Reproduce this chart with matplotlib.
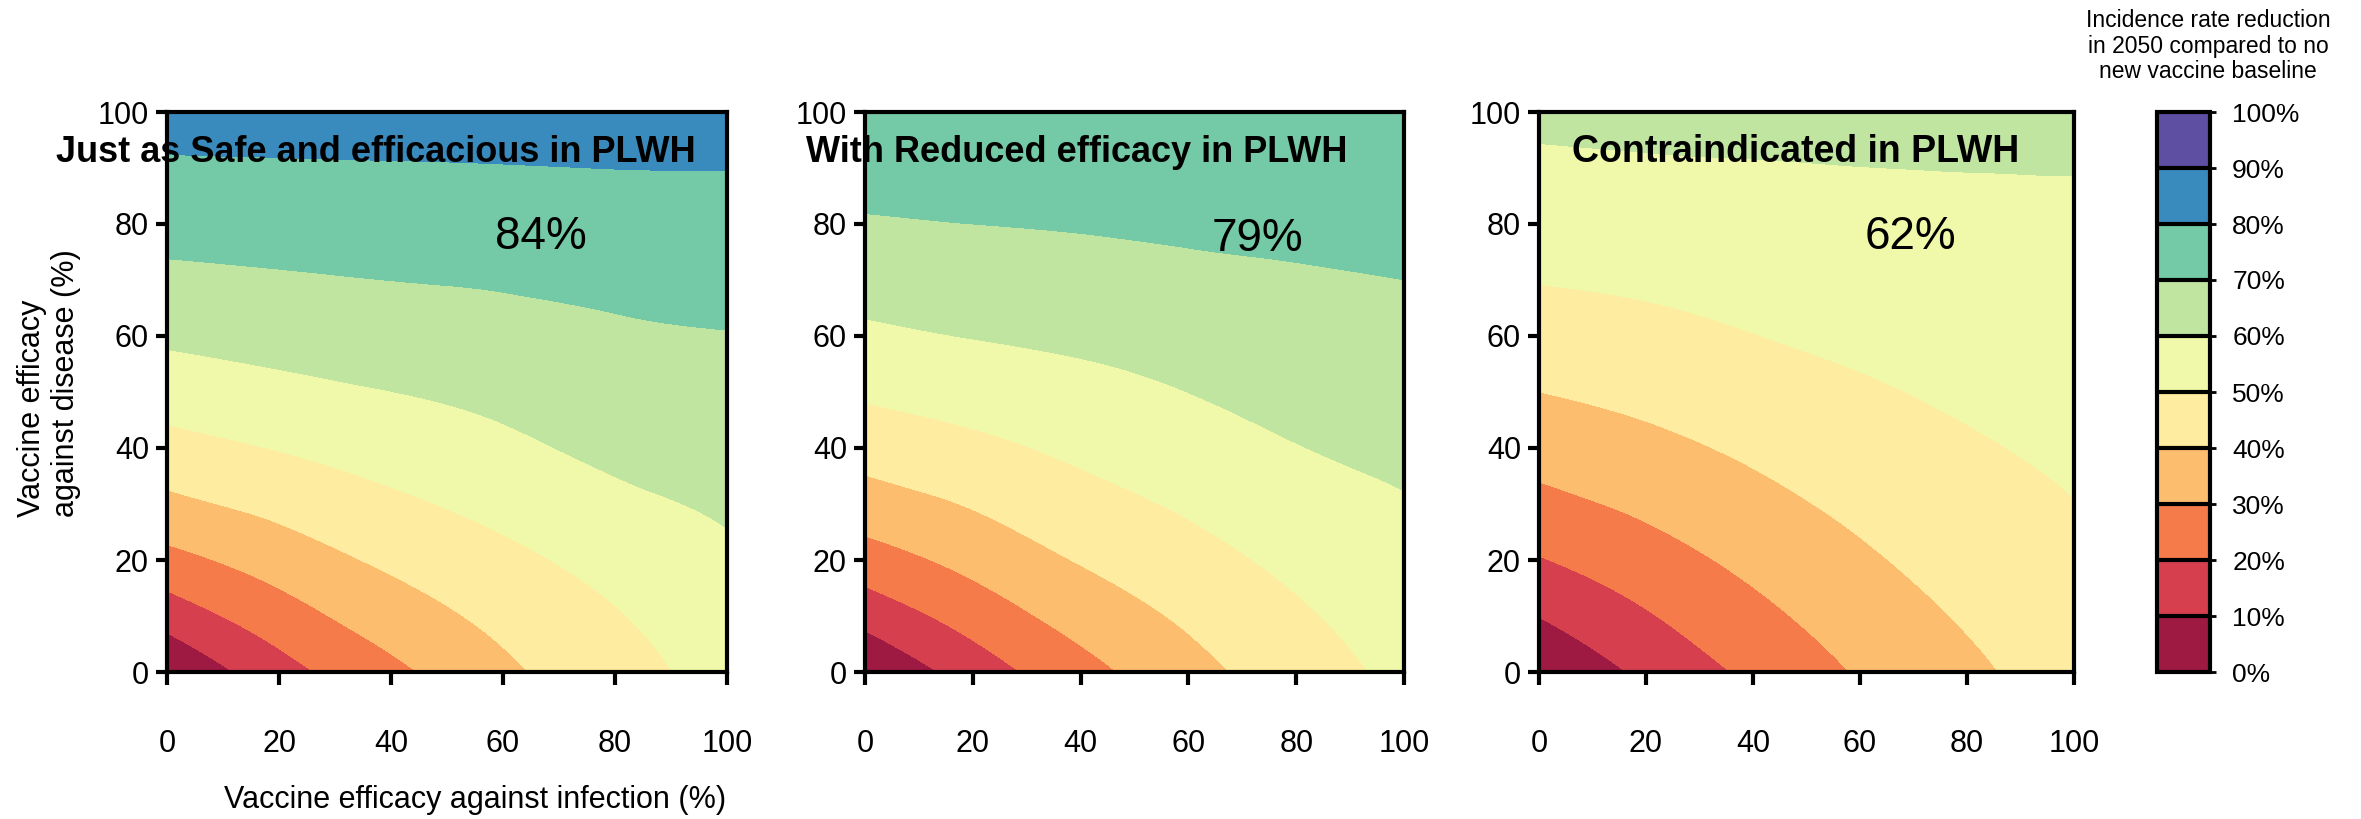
import numpy as np
import matplotlib
matplotlib.use('Agg')
import matplotlib.pyplot as plt
import matplotlib.tri as mtri
from matplotlib.colors import ListedColormap, BoundaryNorm
from matplotlib.cm import ScalarMappable

plt.rcParams['font.family'] = ['Liberation Sans', 'DejaVu Sans']

# grid of vaccine efficacies (%)
infection_efficacy = [0, 20, 40, 60, 80, 100]
disease_efficacy = [0, 20, 40, 60, 80, 100]

# incidence rate reduction (%), rows = disease efficacy, cols = infection efficacy
reduction_safe = [
    [0.0, 16.0, 27.5, 38.0, 46.0, 54.0],
    [26.8, 34.5, 41.8, 47.6, 53.3, 58.5],
    [46.6, 50.4, 54.1, 57.9, 62.1, 64.0],
    [61.6, 63.6, 65.3, 66.8, 68.7, 69.7],
    [73.4, 74.0, 74.6, 75.2, 76.0, 76.4],
    [84.0, 84.2, 84.3, 84.3, 84.2, 84.0],
]
reduction_reduced = [
    [0.0, 14.4, 26.4, 36.6, 44.9, 52.5],
    [25.4, 33.0, 40.6, 46.5, 52.3, 57.1],
    [43.9, 47.7, 51.9, 55.8, 59.7, 61.9],
    [58.1, 60.3, 61.9, 64.0, 66.0, 67.2],
    [69.1, 70.0, 70.7, 71.6, 72.2, 72.9],
    [78.5, 78.7, 78.9, 79.0, 79.0, 79.0],
]
reduction_contra = [
    [0.0, 12.1, 22.0, 30.8, 38.0, 45.0],
    [19.4, 25.8, 32.4, 38.5, 43.8, 48.2],
    [33.9, 37.5, 41.6, 45.6, 49.0, 51.5],
    [45.5, 47.3, 49.8, 51.9, 53.6, 55.1],
    [54.6, 55.4, 56.3, 57.3, 58.0, 58.7],
    [62.0, 62.5, 62.8, 62.6, 62.3, 61.5],
]
panel_titles = ['Just as Safe and efficacious in PLWH',
                'With Reduced efficacy in PLWH',
                'Contraindicated in PLWH']
headline = ['84%', '79%', '62%']
levels = [0, 10, 20, 30, 40, 50, 60, 70, 80, 90, 100]
band_colors = ['#9e1a42', '#d6404e', '#f57b4a', '#fdbd6f', '#feeca1',
               '#f0f8a9', '#c0e5a0', '#74c9a6', '#3a8bbd', '#5e4fa2']

cmap = ListedColormap(band_colors)
cmap.set_under(band_colors[0])
cmap.set_over(band_colors[-1])
norm = BoundaryNorm(levels, cmap.N)

W, H = 2361, 819
fig = plt.figure(figsize=(W / 100, H / 100), dpi=100)

# axes boxes in pixels: left, right
boxes = [(167, 727), (865, 1404), (1539, 2074)]
top_px, bot_px = 112, 672
title_x = [56, 806, 1572]
title_size = [26, 26, 27]
label_pos = [(0.668, 0.777), (0.729, 0.773), (0.695, 0.777)]

grids = [reduction_safe, reduction_reduced, reduction_contra]
X, Y = np.meshgrid(infection_efficacy, disease_efficacy)
triang = mtri.Triangulation(X.ravel(), Y.ravel())
refiner = mtri.UniformTriRefiner(triang)

for i, (l, r) in enumerate(boxes):
    ax = fig.add_axes([l / W, 1 - bot_px / H, (r - l) / W, (bot_px - top_px) / H])
    # smooth the surface with matplotlib's cubic tri interpolator
    tri_fine, z_fine = refiner.refine_field(np.array(grids[i]).ravel(), subdiv=4)
    ax.tricontourf(tri_fine, z_fine, levels=levels, cmap=cmap, norm=norm, extend='both')
    ax.set_xlim(0, 100)
    ax.set_ylim(0, 100)
    ax.set_xticks([0, 20, 40, 60, 80, 100])
    ax.set_yticks([0, 20, 40, 60, 80, 100])
    for sp in ax.spines.values():
        sp.set_linewidth(3)
    ax.tick_params(axis='x', direction='out', length=9, width=3, pad=32, labelsize=22)
    ax.tick_params(axis='y', direction='out', length=8, width=3, pad=5, labelsize=22)
    ax.text(label_pos[i][0], label_pos[i][1], headline[i], transform=ax.transAxes,
            ha='center', va='center', fontsize=33)
    fig.text(title_x[i] / W, 1 - 152 / H, panel_titles[i], ha='left', va='center',
             fontsize=title_size[i], fontweight='bold')

fig.text(475 / W, 1 - 800 / H, 'Vaccine efficacy against infection (%)',
         ha='center', va='center', fontsize=22)
fig.text(49 / W, 1 - 383 / H, 'Vaccine efficacy\nagainst disease (%)',
         ha='center', va='center', rotation=90, multialignment='left', fontsize=22)

# colorbar
cax = fig.add_axes([2157 / W, 1 - bot_px / H, 53 / W, (bot_px - top_px) / H])
cb = fig.colorbar(ScalarMappable(norm=norm, cmap=cmap), cax=cax, ticks=levels,
                  boundaries=levels, drawedges=True)
cb.ax.set_yticklabels([f'{v}%' for v in levels])
cb.outline.set_linewidth(3)
cb.dividers.set_color('black')
cb.dividers.set_linewidth(3)
cb.ax.tick_params(length=4, width=2, pad=12, labelsize=19)
fig.text(2208 / W, 1 - 46 / H,
         'Incidence rate reduction\nin 2050 compared to no\nnew vaccine baseline',
         ha='center', va='center', fontsize=16.5, linespacing=1.15)

fig.savefig('out.png', dpi=100)
